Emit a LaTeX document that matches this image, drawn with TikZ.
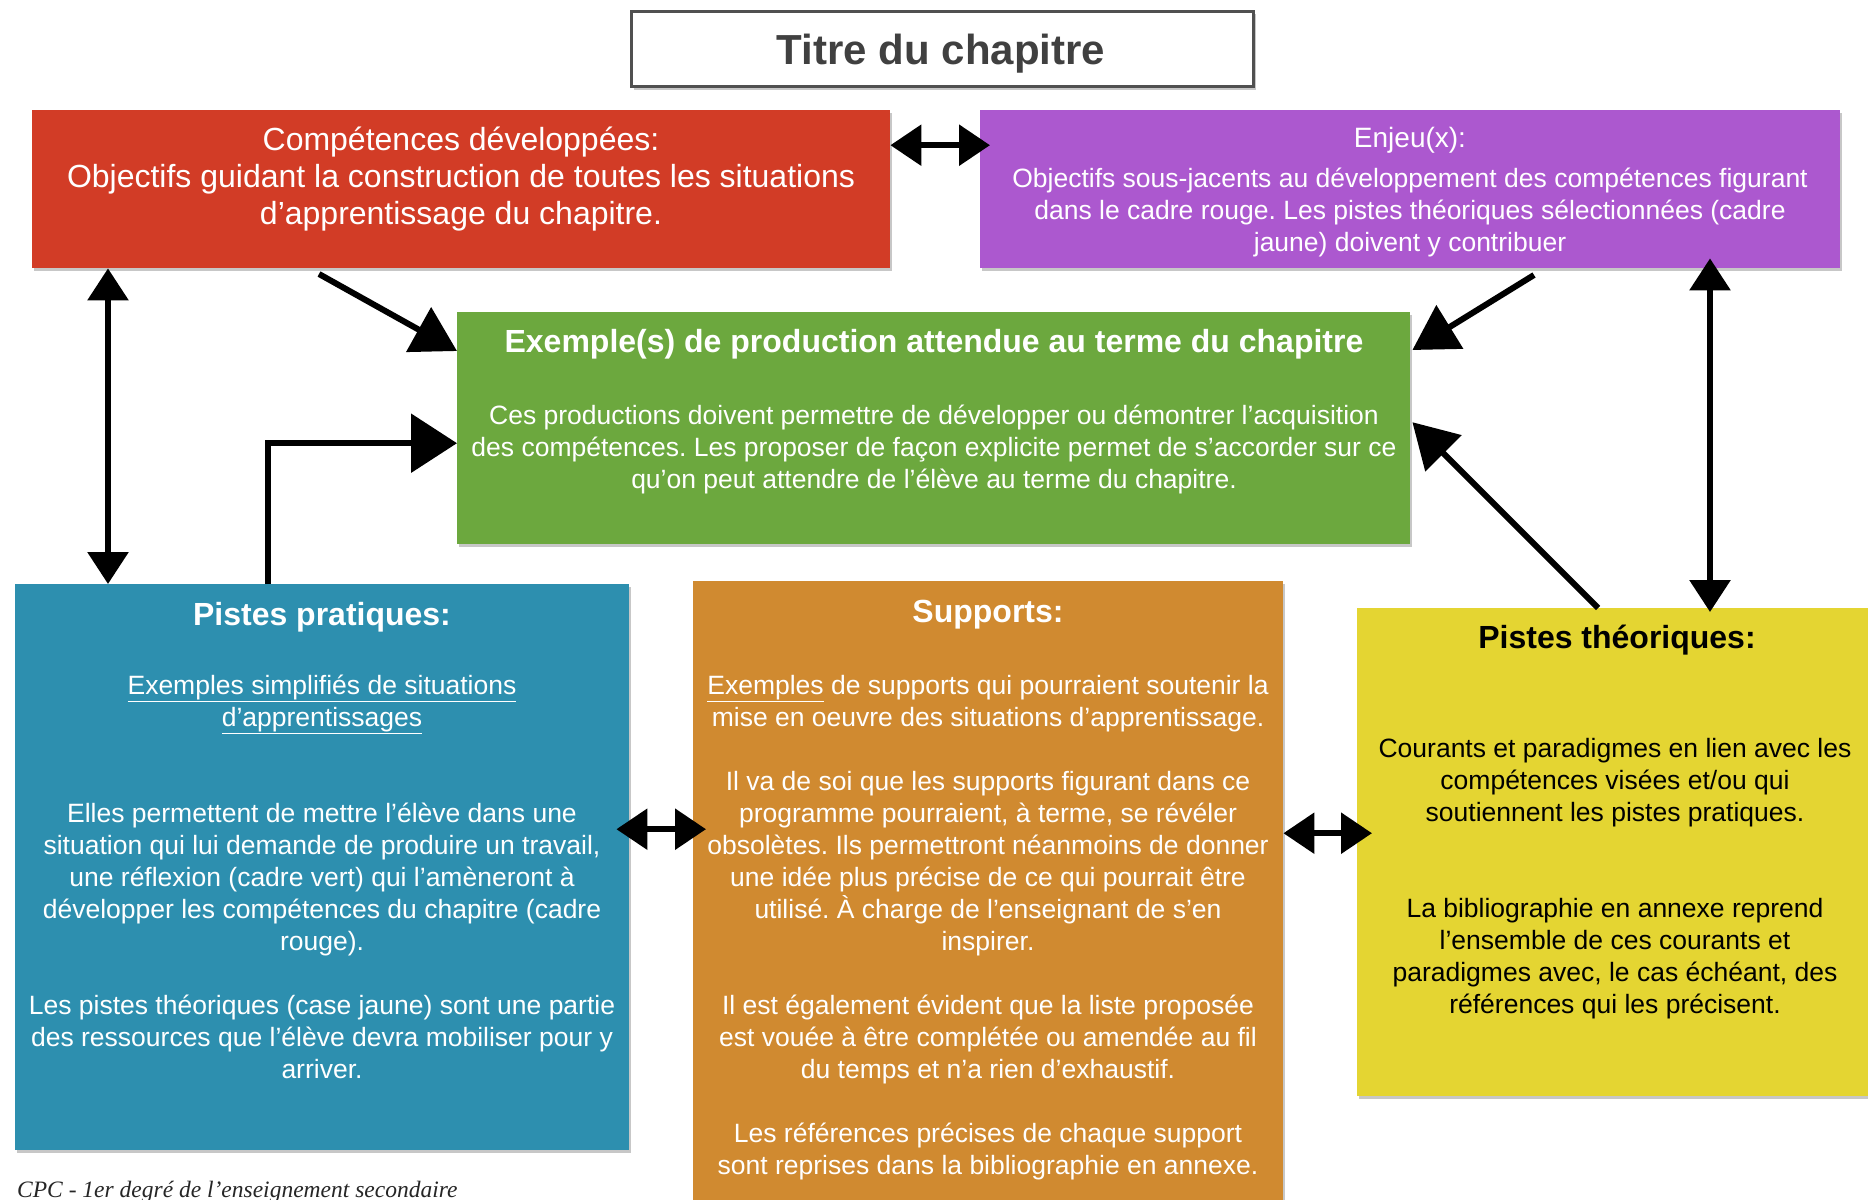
\documentclass[tikz,border=0pt]{standalone}
\usepackage{fontspec}
\setmainfont{Liberation Sans}
\newfontfamily\footfont{Liberation Serif}
\usetikzlibrary{arrows.meta,shadows}
\frenchspacing

\definecolor{compred}{RGB}{210,60,38}
\definecolor{enjeupurple}{RGB}{172,88,207}
\definecolor{prodgreen}{RGB}{108,168,62}
\definecolor{pratblue}{RGB}{45,143,175}
\definecolor{supporange}{RGB}{208,138,48}
\definecolor{theoyellow}{RGB}{228,213,50}
\definecolor{titlegray}{RGB}{80,80,80}
\definecolor{titletext}{RGB}{64,64,64}

\tikzset{
  panel/.style={rectangle, inner sep=0pt, anchor=north west,
    drop shadow={shadow xshift=2pt, shadow yshift=-3pt, opacity=0.22, fill=black}},
  % multi-line texts are placed by the baseline of their last line
  bodytext/.style={anchor=base, align=center, inner sep=0pt,
    font=\fontsize{26.5}{32}\selectfont},
  headtext/.style={anchor=base, inner sep=0pt, font=\fontsize{32}{37}\selectfont\bfseries},
  link/.style={line width=6pt, black},
  fwd/.style={link, -{Triangle[length=44pt,width=50pt]}},
  both/.style={link, {Triangle[length=32pt,width=40pt]}-{Triangle[length=32pt,width=40pt]}},
  bothshort/.style={link, {Triangle[length=31pt,width=40pt]}-{Triangle[length=31pt,width=40pt]}},
}

\begin{document}
\begin{tikzpicture}[x=1pt,y=1pt]
\useasboundingbox (0,0) rectangle (1868,-1199);
\clip (0,0) rectangle (1868,-1199);
\fill[white] (0,0) rectangle (1868,-1199);

% chapter title
\node[panel, draw=titlegray, line width=3pt, fill=white,
      minimum width=622pt, minimum height=75pt] (titlebox) at (630,-10) {};
\node[anchor=base, inner sep=0pt, text=titletext,
      font=\fontsize{42}{48}\selectfont\bfseries] (titlelabel) at (941,-64) {Titre du chapitre};

% coloured panels
\node[panel, fill=compred, minimum width=858pt, minimum height=158pt] (comp) at (32,-110) {};
\node[panel, fill=enjeupurple, minimum width=860pt, minimum height=158pt] (enjeu) at (980,-110) {};
\node[panel, fill=prodgreen, minimum width=953pt, minimum height=232pt] (prod) at (457,-312) {};
\node[panel, fill=pratblue, minimum width=614pt, minimum height=566pt] (prat) at (15,-584) {};
\node[panel, fill=supporange, minimum width=590pt, minimum height=640pt] (supp) at (693,-581) {};
\node[panel, fill=theoyellow, minimum width=540pt, minimum height=488pt] (theo) at (1357,-608) {};

% texts of the panels
\node[bodytext, text=white, font=\fontsize{32}{37}\selectfont] (compT) at (461,-224)
  {Compétences développées:\\Objectifs guidant la construction de toutes les situations\\d’apprentissage du chapitre.};

\node[anchor=base, inner sep=0pt, text=white, font=\fontsize{28}{32}\selectfont] (enjeuH) at (1410,-147) {Enjeu(x):};
\node[bodytext, text=white] (enjeuT) at (1410,-251)
  {Objectifs sous-jacents au développement des compétences figurant\\dans le cadre rouge. Les pistes théoriques sélectionnées (cadre\\jaune) doivent y contribuer};

\node[headtext, text=white] (prodH) at (934,-352) {Exemple(s) de production attendue au terme du chapitre};
\node[bodytext, text=white] (prodT) at (934,-488)
  {Ces productions doivent permettre de développer ou démontrer l’acquisition\\des compétences. Les proposer de façon explicite permet de s’accorder sur ce\\qu’on peut attendre de l’élève au terme du chapitre.};

\node[headtext, text=white] (pratH) at (322,-625) {Pistes pratiques:};
\node[bodytext, text=white] (pratT) at (322,-1078)
  {\underline{Exemples simplifiés de situations}\\\underline{d’apprentissages}\\[64pt]%
   Elles permettent de mettre l’élève dans une\\situation qui lui demande de produire un travail,\\%
   une réflexion (cadre vert) qui l’amèneront à\\développer les compétences du chapitre (cadre\\rouge).\\[32pt]%
   Les pistes théoriques (case jaune) sont une partie\\des ressources que l’élève devra mobiliser pour y\\arriver.};

\node[headtext, text=white] (suppH) at (988,-622) {Supports:};
\node[bodytext, text=white] (suppT) at (988,-1174)
  {\underline{Exemples} de supports qui pourraient soutenir la\\mise en oeuvre des situations d’apprentissage.\\[32pt]%
   Il va de soi que les supports figurant dans ce\\programme pourraient, à terme, se révéler\\%
   obsolètes. Ils permettront néanmoins de donner\\une idée plus précise de ce qui pourrait être\\%
   utilisé. À charge de l’enseignant de s’en\\inspirer.\\[32pt]%
   Il est également évident que la liste proposée\\est vouée à être complétée ou amendée au fil\\%
   du temps et n’a rien d’exhaustif.\\[32pt]%
   Les références précises de chaque support\\sont reprises dans la bibliographie en annexe.};

\node[headtext, text=black] (theoH) at (1617,-648) {Pistes théoriques:};
\node[bodytext, text=black] (theoT) at (1615,-1013)
  {Courants et paradigmes en lien avec les\\compétences visées et/ou qui\\soutiennent les pistes pratiques.\\[64pt]%
   La bibliographie en annexe reprend\\l’ensemble de ces courants et\\paradigmes avec, le cas échéant, des\\références qui les précisent.};

% footer
\node[anchor=base west, inner sep=0pt, text=black!85,
      font=\footfont\itshape\fontsize{23.5}{26}\selectfont] (footer) at (17,-1197)
  {CPC - 1er degré de l’enseignement secondaire};

% connectors
\coordinate (compOut) at (319,-274);
\coordinate (enjeuOut) at (1534,-275);
\draw[bothshort] ([yshift=44pt]comp.east) -- ([xshift=10pt,yshift=44pt]enjeu.west);
\draw[fwd] (compOut) -- ([yshift=-39pt]prod.north west);
\draw[fwd] (enjeuOut) -- ([xshift=2pt,yshift=-38pt]prod.north east);
\draw[both] ([xshift=76pt]comp.south west) -- ([xshift=93pt]prat.north west);
\draw[link, -{Triangle[length=46pt,width=58pt]}] ([xshift=253pt]prat.north west) |- ([yshift=-15pt]prod.west);
\draw[both] ([xshift=730pt,yshift=10pt]enjeu.south west) -- ([xshift=353pt,yshift=-4pt]theo.north west);
\draw[fwd] ([xshift=241pt]theo.north west) -- ([xshift=2pt,yshift=6pt]prod.east);
\draw[bothshort] ([xshift=-13pt,yshift=38pt]prat.east) -- ([xshift=13pt,yshift=72pt]supp.west);
\draw[bothshort] ([yshift=68pt]supp.east) -- ([xshift=15pt,yshift=19pt]theo.west);
\end{tikzpicture}
\end{document}
